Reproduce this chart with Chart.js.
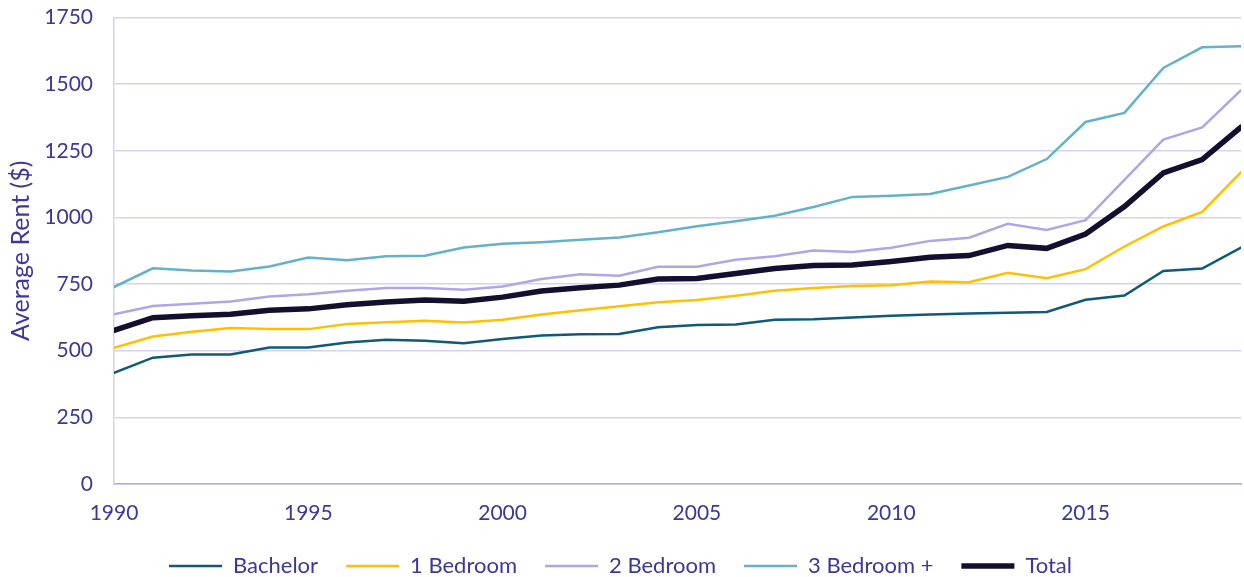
<!DOCTYPE html>
<html>
<head>
<meta charset="utf-8">
<script src="https://cdn.jsdelivr.net/npm/chart.js@4"></script>
<style>
  html, body { margin: 0; padding: 0; background: #fff; }
  #wrap { width: 1244px; height: 577px; }
</style>
</head>
<body>
<div id="wrap"><canvas id="rentChart" width="1244" height="577"></canvas></div>
<script>
const years = [1990, 1991, 1992, 1993, 1994, 1995, 1996, 1997, 1998, 1999,
               2000, 2001, 2002, 2003, 2004, 2005, 2006, 2007, 2008, 2009,
               2010, 2011, 2012, 2013, 2014, 2015, 2016, 2017, 2018, 2019];

const bachelor = [417, 474, 486, 486, 512, 512, 531, 541, 537, 528,
                  544, 557, 562, 563, 588, 596, 598, 616, 618, 625,
                  631, 636, 640, 642, 645, 691, 707, 799, 808, 887];
const oneBedroom = [511, 553, 571, 585, 581, 581, 600, 607, 612, 606,
                    616, 636, 652, 667, 682, 690, 706, 725, 735, 743,
                    746, 760, 757, 792, 772, 806, 891, 966, 1021, 1170];
const twoBedroom = [637, 668, 676, 685, 703, 712, 725, 735, 735, 729,
                    741, 769, 787, 781, 815, 815, 841, 854, 876, 870,
                    886, 912, 924, 976, 953, 990, 1141, 1292, 1338, 1477];
const threeBedroom = [739, 809, 801, 797, 816, 850, 839, 854, 856, 887,
                      901, 907, 916, 925, 944, 967, 986, 1006, 1039, 1077,
                      1081, 1088, 1120, 1152, 1219, 1358, 1392, 1561, 1638, 1642];
const total = [576, 624, 631, 637, 652, 657, 672, 683, 690, 686,
               701, 724, 736, 746, 769, 771, 790, 808, 820, 822,
               835, 851, 857, 895, 884, 938, 1041, 1167, 1217, 1339];

const yTicks = [0, 250, 500, 750, 1000, 1250, 1500, 1750];
const xTicks = [1990, 1995, 2000, 2005, 2010, 2015];

const textColor = "#3C3799";
const gridColor = "#D6D1F3";
const axisColor = "#B3ABE6";

Chart.defaults.font.family = "Lato";
Chart.defaults.color = textColor;

function series(label, values, color, width) {
    return {
        label: label,
        data: values.map((v, i) => ({ x: years[i], y: v })),
        borderColor: color,
        backgroundColor: color,
        borderWidth: width,
        borderCapStyle: "round",
        pointRadius: 0,
        tension: 0
    };
}

new Chart(document.getElementById("rentChart").getContext("2d"), {
    type: "line",
    data: {
        datasets: [
            series("Bachelor", bachelor, "#0E5A78", 2.5),
            series("1 Bedroom", oneBedroom, "#FFC000", 2.5),
            series("2 Bedroom", twoBedroom, "#B1A5E6", 2.5),
            series("3 Bedroom +", threeBedroom, "#63B2C8", 2.5),
            series("Total", total, "#130F2E", 5.5)
        ]
    },
    options: {
        responsive: false,
        animation: false,
        layout: { padding: { top: 17.5, right: 3, bottom: -10, left: 0 } },
        plugins: {
            tooltip: { enabled: false },
            legend: {
                position: "bottom",
                labels: {
                    usePointStyle: true,
                    pointStyle: "line",
                    pointStyleWidth: 53,
                    padding: 28,
                    font: { size: 22 },
                    color: textColor
                }
            }
        },
        scales: {
            x: {
                type: "linear",
                min: years[0],
                max: years[years.length - 1],
                afterBuildTicks: scale => { scale.ticks = xTicks.map(v => ({ value: v })); },
                afterFit: scale => { scale.height = 43; },
                ticks: {
                    callback: v => String(v),
                    font: { size: 21 },
                    padding: 17,
                    maxRotation: 0
                },
                grid: { display: false, drawTicks: false },
                border: { display: true, color: axisColor, width: 1.5 }
            },
            y: {
                min: 0,
                max: 1750,
                afterBuildTicks: scale => { scale.ticks = yTicks.map(v => ({ value: v })); },
                afterFit: scale => {
                    scale.width = 114;
                    scale.paddingTop = 0;
                    scale.paddingBottom = 0;
                },
                ticks: {
                    callback: v => String(v),
                    font: { size: 21 },
                    padding: 21
                },
                grid: { color: gridColor, lineWidth: 1.5, drawTicks: false },
                border: { display: true, color: gridColor, width: 1.5 },
                title: {
                    display: true,
                    text: "Average Rent ($)",
                    font: { size: 25 },
                    color: textColor,
                    padding: { top: 6, bottom: 0 }
                }
            }
        }
    }
});
</script>
</body>
</html>
